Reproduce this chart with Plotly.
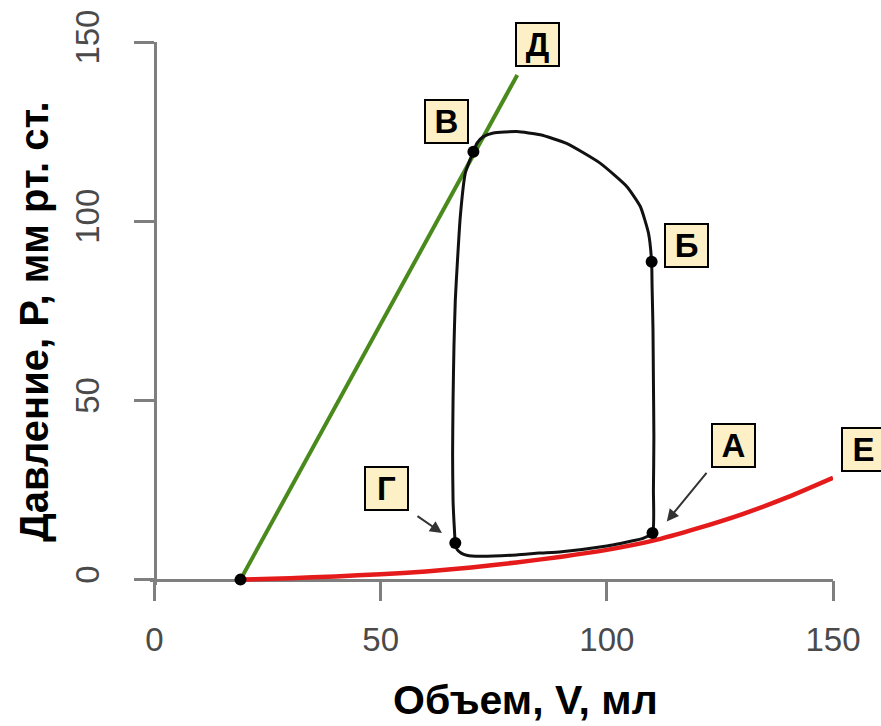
import plotly.graph_objects as go

# ---- data ----
espvr_v = [19.0, 80.2]
espvr_p = [0.0, 140.8]

edpvr_v = [19, 30, 40, 50, 60, 70, 80, 90, 100, 110, 120, 130, 140, 150]
edpvr_p = [0.0, 0.4, 0.9, 1.5, 2.3, 3.4, 4.8, 6.4, 8.3, 10.8, 14.3, 18.3, 23.0, 28.4]

loop_v = [110.1, 110.3, 110.4, 110.3, 110.2, 110.0, 109.9, 109.2, 107.4, 104.4, 98.5, 91.1,
          85.3, 80.1, 74.9, 72.7, 71.3, 70.5, 69.4, 68.7, 67.6, 66.9, 66.5, 66.2, 66.0, 65.9,
          66.0, 66.3, 66.5, 66.9, 67.8, 69.0, 72.0, 80.0, 85.0, 90.0, 100.0, 103.0, 106.0,
          108.0, 110.1]
loop_p = [13.0, 25.0, 40.0, 55.0, 70.0, 82.0, 88.7, 96.7, 104.1, 109.7, 116.2, 121.7,
          124.1, 125.0, 124.6, 123.6, 121.8, 119.4, 116.0, 113.4, 101.3, 87.3, 78.0, 65.0,
          50.0, 35.0, 22.0, 14.0, 10.2, 8.4, 7.4, 6.8, 6.5, 6.9, 7.4, 7.8, 9.4, 10.1, 10.9,
          11.5, 13.0]

dot_v = [19.0, 110.1, 109.9, 70.5, 66.5]
dot_p = [0.0, 13.0, 88.7, 119.4, 10.2]

label_text = ["Д", "В", "Б", "А", "Е", "Г"]
label_v = [84.7, 64.6, 117.6, 127.9, 156.7, 51.2]
label_p = [149.3, 127.8, 93.3, 37.4, 36.2, 25.3]

x_ticks = [0, 50, 100, 150]
y_ticks = [0, 50, 100, 150]

x_title = "Объем, V, мл"
y_title = "Давление, Р, мм рт. ст."

xr = [-1.0, 150.0]
yr = [-1.5, 150.0]

# ---- figure ----
fig = go.Figure()

fig.add_trace(go.Scatter(x=espvr_v, y=espvr_p, mode="lines",
                         line=dict(color="#4a8a1c", width=4), showlegend=False))
fig.add_trace(go.Scatter(x=edpvr_v, y=edpvr_p, mode="lines",
                         line=dict(color="#e51a1a", width=4.5, shape="spline", smoothing=0.6),
                         showlegend=False))
fig.add_trace(go.Scatter(x=loop_v, y=loop_p, mode="lines",
                         line=dict(color="#111111", width=3, shape="spline", smoothing=0.5),
                         showlegend=False))
fig.add_trace(go.Scatter(x=dot_v, y=dot_p, mode="markers",
                         marker=dict(color="#000000", size=12), cliponaxis=False,
                         showlegend=False))

# label boxes (data values converted to paper fractions so that boxes outside the range still show)
for t, v, p in zip(label_text, label_v, label_p):
    fig.add_annotation(x=(v - xr[0]) / (xr[1] - xr[0]), y=(p - yr[0]) / (yr[1] - yr[0]),
                       xref="paper", yref="paper", text="<b>%s</b>" % t,
                       showarrow=False, font=dict(family="Liberation Sans", size=33, color="#000"),
                       bgcolor="#fdefc6", bordercolor="#000000", borderwidth=2,
                       width=41, height=41, borderpad=0, xanchor="center", yanchor="middle")

# arrows to Г and А
fig.add_annotation(x=63.55, y=13.0, xref="x", yref="y", ax=-26, ay=-18, text="",
                   showarrow=True, arrowhead=2, arrowsize=1.2, arrowwidth=2, arrowcolor="#333333")
fig.add_annotation(x=113.25, y=16.25, xref="x", yref="y", ax=41, ay=-50, text="",
                   showarrow=True, arrowhead=2, arrowsize=1.2, arrowwidth=2, arrowcolor="#333333")

# axis titles
fig.add_annotation(x=0.55, y=-0.212, xref="paper", yref="paper", text="<b>%s</b>" % x_title,
                   showarrow=False, font=dict(family="Liberation Sans", size=41, color="#000"),
                   xanchor="center", yanchor="middle")
fig.add_annotation(x=-0.171, y=0.485, xref="paper", yref="paper", text="<b>%s</b>" % y_title,
                   showarrow=False, textangle=-90,
                   font=dict(family="Liberation Sans", size=40, color="#000"),
                   xanchor="center", yanchor="middle")

axis_common = dict(showline=True, linecolor="#7f7f7f", linewidth=2.5, ticks="outside",
                   ticklen=20, tickwidth=2.5, tickcolor="#7f7f7f", showgrid=False,
                   zeroline=False, layer="below traces", automargin=False,
                   tickfont=dict(family="Liberation Sans", size=33, color="#4a4a4a"))

fig.update_xaxes(range=xr, tickvals=x_ticks, anchor="free",
                 position=(0 - yr[0]) / (yr[1] - yr[0]), ticklabelstandoff=10, **axis_common)
fig.update_yaxes(range=yr, tickvals=y_ticks, anchor="free",
                 position=(0 - xr[0]) / (xr[1] - xr[0]), tickangle=-90,
                 ticklabelstandoff=22, **axis_common)

fig.update_layout(width=881, height=726, margin=dict(l=150, r=48, t=42, b=141),
                  plot_bgcolor="white", paper_bgcolor="white", showlegend=False)

fig.write_html("out.html", config={"displayModeBar": False},
               post_script="document.body.style.margin='0';document.body.style.overflow='hidden';")
